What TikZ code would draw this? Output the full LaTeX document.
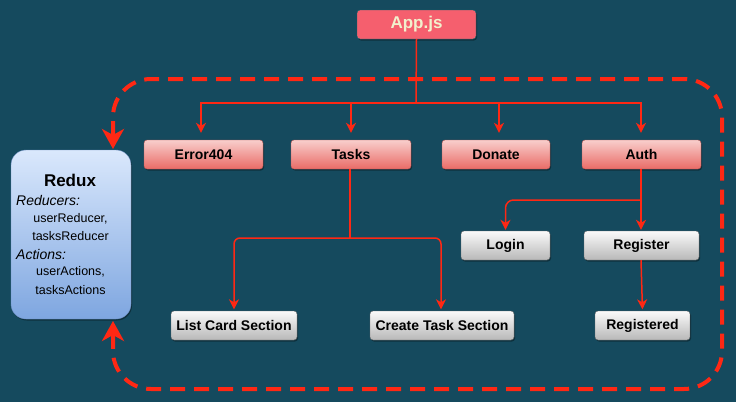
\documentclass[tikz,border=0pt]{standalone}
\usepackage{fontspec}
\setmainfont{Liberation Sans}
\usetikzlibrary{arrows.meta,shadows}
\definecolor{bg}{RGB}{21,74,94}
\definecolor{lnred}{RGB}{255,40,20}
\definecolor{pinktop}{HTML}{F8CECC}
\definecolor{pinkbot}{HTML}{EA6B66}
\definecolor{pinkline}{HTML}{B85450}
\definecolor{graytop}{HTML}{FAFAFA}
\definecolor{graybot}{HTML}{B8B8B8}
\definecolor{grayline}{HTML}{666666}
\definecolor{bluetop}{HTML}{DAE8FC}
\definecolor{bluebot}{HTML}{7EA6E0}
\definecolor{blueline}{HTML}{6C8EBF}
\definecolor{appfill}{RGB}{245,95,110}
\definecolor{apptext}{RGB}{242,240,205}
\tikzset{
  boxbase/.style={rounded corners=3pt, inner sep=0pt, minimum height=29pt,
    font=\bfseries\fontsize{14}{16}\selectfont, text=black,
    drop shadow={shadow xshift=1pt, shadow yshift=-1.5pt, opacity=0.35, fill=black}},
  pinkbox/.style={boxbase, draw=pinkline, top color=pinktop, bottom color=pinkbot},
  graybox/.style={boxbase, draw=grayline, top color=graytop, bottom color=graybot},
  appbox/.style={boxbase, draw=teal!60!bg, fill=appfill, text=apptext,
    font=\bfseries\fontsize{17}{19}\selectfont},
  reduxbox/.style={rounded corners=15pt, inner sep=0pt, draw=blueline,
    top color=bluetop, bottom color=bluebot,
    drop shadow={shadow xshift=1pt, shadow yshift=-1.5pt, opacity=0.35, fill=black}},
  conn/.style={draw=lnred, line width=1.5pt},
  arr/.style={conn, -{Stealth[length=10pt,width=10pt,inset=3pt]}},
  dashline/.style={draw=lnred, line width=4pt, dash pattern=on 15pt off 9pt,
    {Stealth[length=20pt,width=22pt,inset=6pt]}-{Stealth[length=20pt,width=22pt,inset=6pt]}},
  rtxt/.style={inner sep=0pt, text=black},
}
\begin{document}
\begin{tikzpicture}[x=1pt,y=-1pt]
\useasboundingbox (0,0) rectangle (736,402);
\fill[bg] (0,0) rectangle (736,402);

% dashed loop
\coordinate (rtop) at (113,149);
\coordinate (rbot) at (113,321);
\draw[dashline, rounded corners=38pt] (rtop) -- (113,79) -- (722,79) -- (722,389) -- (113,389) -- (rbot);

% redux
\node[reduxbox, minimum width=120pt, minimum height=169pt] (redux) at (71,234.5) {};
\node[rtxt, font=\bfseries\fontsize{17}{19}\selectfont] (rxt) at (70,180) {Redux};
\node[rtxt, anchor=west, font=\itshape\fontsize{14}{16}\selectfont] (rred) at (16,200) {Reducers:};
\node[rtxt, font=\fontsize{12.5}{14}\selectfont] (ur) at (70.5,218.5) {userReducer,};
\node[rtxt, font=\fontsize{12.5}{14}\selectfont] (tr) at (70.5,236.5) {tasksReducer};
\node[rtxt, anchor=west, font=\itshape\fontsize{14}{16}\selectfont] (ract) at (16,254) {Actions:};
\node[rtxt, font=\fontsize{12.5}{14}\selectfont] (ua) at (70.5,272) {userActions,};
\node[rtxt, font=\fontsize{12.5}{14}\selectfont] (ta) at (70.5,290) {tasksActions};

% boxes
\node[appbox, minimum width=119pt] (app) at (416.5,24.5) {App.js};
\node[pinkbox, minimum width=119pt] (e404) at (203.5,154.5) {Error404};
\node[pinkbox, minimum width=120pt] (tasks) at (351,154.5) {Tasks};
\node[pinkbox, minimum width=108pt] (donate) at (496,154.5) {Donate};
\node[pinkbox, minimum width=119pt] (auth) at (641.5,154.5) {Auth};
\node[graybox, minimum width=89pt] (login) at (505.5,245.5) {Login};
\node[graybox, minimum width=115pt] (register) at (641.5,245.5) {Register};
\node[graybox, minimum width=126pt] (list) at (234,325.5) {List Card Section};
\node[graybox, minimum width=144pt] (create) at (442,325.5) {Create Task Section};
\node[graybox, minimum width=95pt] (registered) at (642.5,325.5) {Registered};

% connectors
\coordinate (j1) at (416,103);
\draw[conn] (app.south) -- (j1);
\draw[arr, shorten >=7pt] (j1) -| ([xshift=-2.5pt]e404.north);
\draw[arr, shorten >=7pt] (j1) -| (tasks.north);
\draw[arr, shorten >=7pt] (j1) -| ([xshift=3pt]donate.north);
\draw[arr, shorten >=7pt] (j1) -| ([xshift=-0.5pt]auth.north);

\coordinate (t1) at (350,238);
\draw[conn] ([xshift=-1pt]tasks.south) -- (t1);
\draw[arr, rounded corners=6pt, shorten >=1.5pt] (t1) -| (list.north);
\draw[arr, rounded corners=6pt, shorten >=1.5pt] (t1) -| ([xshift=-1pt]create.north);

\coordinate (a1) at (641,200);
\draw[arr, shorten >=1pt] ([xshift=-0.5pt]auth.south) -- ([xshift=-0.5pt]register.north);
\draw[arr, rounded corners=8pt, shorten >=1pt] (a1) -| (login.north);
\draw[arr, shorten >=1.5pt] ([xshift=-0.5pt]register.south) -- (registered.north);
\end{tikzpicture}
\end{document}
